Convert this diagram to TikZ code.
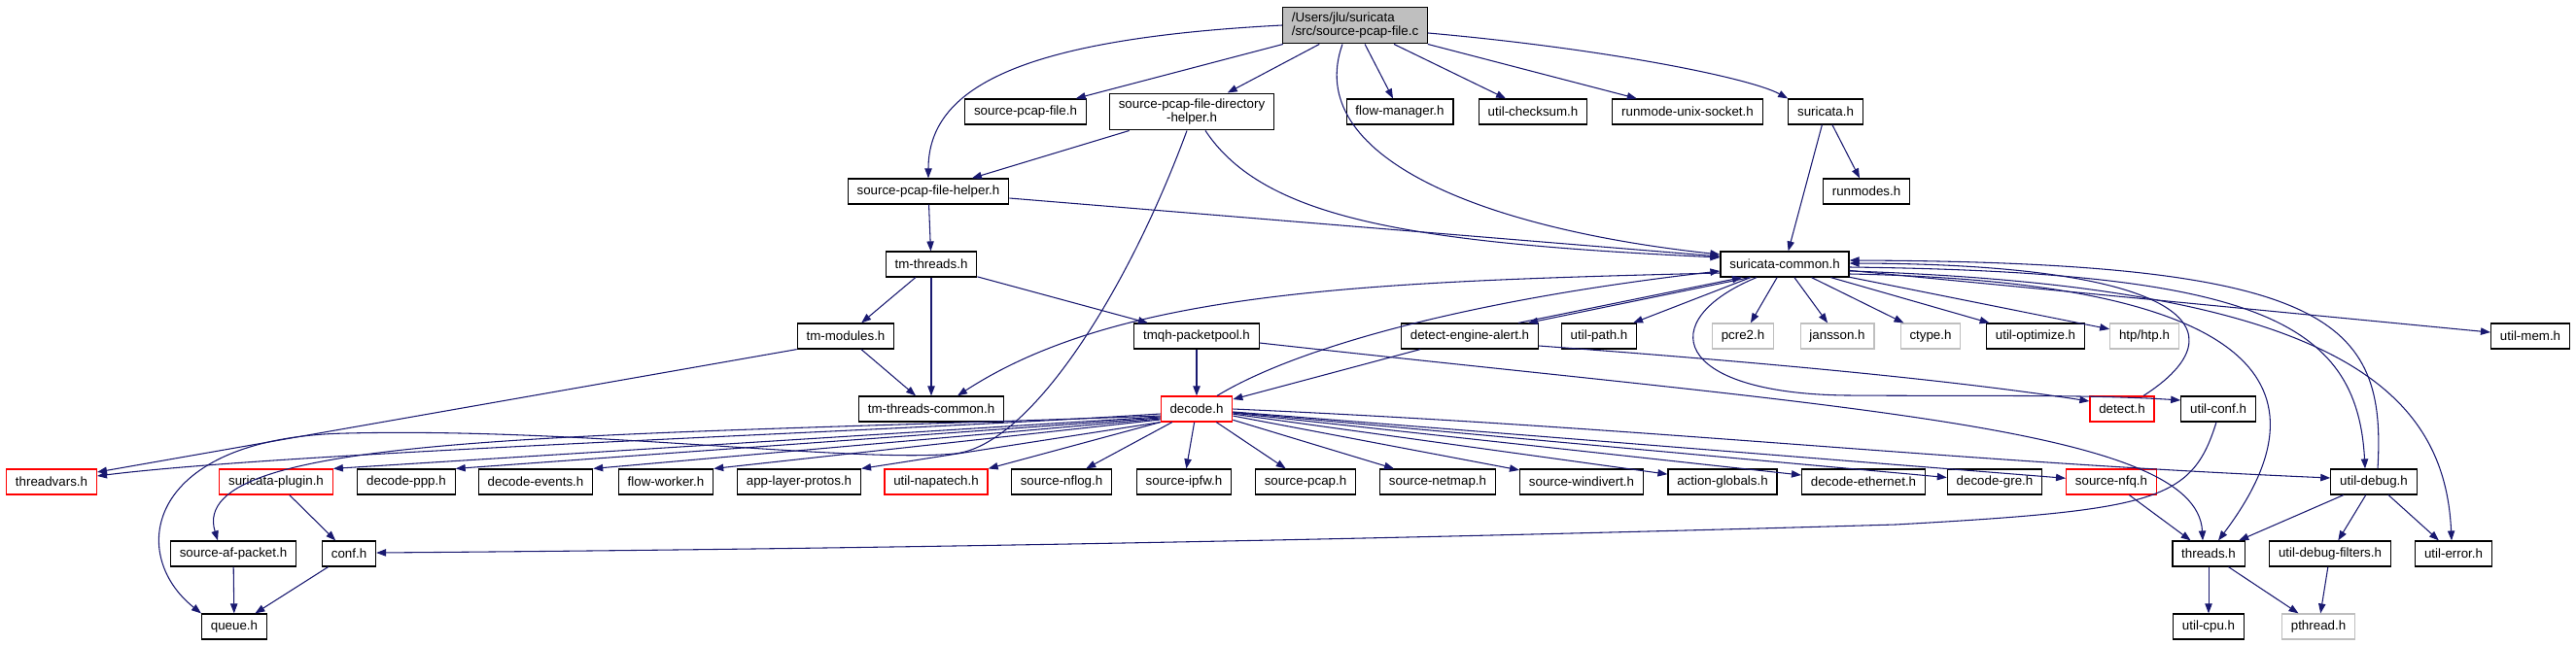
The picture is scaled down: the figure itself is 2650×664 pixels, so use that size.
\documentclass[tikz,border=0pt]{standalone}
\usepackage{fontspec}
\setmainfont{Liberation Sans}
\usetikzlibrary{arrows.meta}

\definecolor{depblue}{HTML}{191970}
\definecolor{sysgray}{HTML}{BFBFBF}

\begin{document}
\begin{tikzpicture}[x=0.75pt, y=-0.75pt,
    hdr/.style={draw=black, line width=0.9pt, minimum height=19.5pt, inner xsep=7pt, inner ysep=0pt, font=\fontsize{10}{11}\selectfont},
    hdrred/.style={hdr, draw=red},
    hdrsys/.style={hdr, draw=sysgray},
    dep/.style={draw=depblue, line width=0.8pt, -{Triangle[length=7.5pt, width=5.5pt]}}]
  \useasboundingbox (0,0) rectangle (2650,664);

  % the file itself
  \node[hdr, fill=sysgray, align=left, inner ysep=4pt] (r) at (1394,26) {/Users/jlu/suricata\\/src/source-pcap-file.c};

  % first row
  \node[hdr] (spf) at (1055,115) {source-pcap-file.h};
  \node[hdr, align=center, inner ysep=4pt] (dirh) at (1226,115) {source-pcap-file-directory\\-helper.h};
  \node[hdr] (fm) at (1440,115) {flow-manager.h};
  \node[hdr] (cks) at (1577,115) {util-checksum.h};
  \node[hdr] (rus) at (1736,115) {runmode-unix-socket.h};
  \node[hdr] (sur) at (1878,115) {suricata.h};

  % second row
  \node[hdr] (sfh) at (955,197) {source-pcap-file-helper.h};
  \node[hdr] (rmd) at (1920,197) {runmodes.h};

  % third row
  \node[hdr] (tmt) at (958,272) {tm-threads.h};
  \node[hdr] (sc) at (1836,272) {suricata-common.h};

  % fourth row
  \node[hdr] (tmm) at (870,346) {tm-modules.h};
  \node[hdr] (tmqh) at (1231,346) {tmqh-packetpool.h};
  \node[hdr] (dea) at (1512,346) {detect-engine-alert.h};
  \node[hdr] (upath) at (1645,346) {util-path.h};
  \node[hdrsys] (pcre) at (1793,346) {pcre2.h};
  \node[hdrsys] (jan) at (1890,346) {jansson.h};
  \node[hdrsys] (ctyp) at (1986,346) {ctype.h};
  \node[hdr] (uopt) at (2094,346) {util-optimize.h};
  \node[hdrsys] (htp) at (2206,346) {htp/htp.h};
  \node[hdr] (umem) at (2603,346) {util-mem.h};

  % fifth row
  \node[hdr] (ttc) at (958,421) {tm-threads-common.h};
  \node[hdrred] (dec) at (1231,421) {decode.h};
  \node[hdrred] (det) at (2183,421) {detect.h};
  \node[hdr] (uconf) at (2282,421) {util-conf.h};

  % sixth row
  \node[hdrred] (tv) at (53,496) {threadvars.h};
  \node[hdrred] (splug) at (284,496) {suricata-plugin.h};
  \node[hdr] (dppp) at (418,496) {decode-ppp.h};
  \node[hdr] (devt) at (551,496) {decode-events.h};
  \node[hdr] (fw) at (685,496) {flow-worker.h};
  \node[hdr] (alp) at (822,496) {app-layer-protos.h};
  \node[hdrred] (unap) at (963,496) {util-napatech.h};
  \node[hdr] (nflog) at (1092,496) {source-nflog.h};
  \node[hdr] (ipfw) at (1218,496) {source-ipfw.h};
  \node[hdr] (spcap) at (1343,496) {source-pcap.h};
  \node[hdr] (nmap) at (1479,496) {source-netmap.h};
  \node[hdr] (wdiv) at (1627,496) {source-windivert.h};
  \node[hdr] (actg) at (1772,496) {action-globals.h};
  \node[hdr] (deth) at (1917,496) {decode-ethernet.h};
  \node[hdr] (dgre) at (2052,496) {decode-gre.h};
  \node[hdrred] (nfq) at (2172,496) {source-nfq.h};
  \node[hdr] (udbg) at (2442,496) {util-debug.h};

  % seventh row
  \node[hdr] (afp) at (240,570) {source-af-packet.h};
  \node[hdr] (conf) at (359,570) {conf.h};
  \node[hdr] (thr) at (2272,570) {threads.h};
  \node[hdr] (udf) at (2397,570) {util-debug-filters.h};
  \node[hdr] (uerr) at (2524,570) {util-error.h};

  % last row
  \node[hdr] (q) at (241,645) {queue.h};
  \node[hdr] (ucpu) at (2272,645) {util-cpu.h};
  \node[hdrsys] (pth) at (2385,645) {pthread.h};

  % includes of the file itself
  \draw[dep] (r.west) .. controls (1050,40) and (955,90) .. (sfh.north);
  \draw[dep] (r) -- (spf);
  \draw[dep] (r) -- (dirh);
  \draw[dep] (r.south -| 1381,0) .. controls (1340,160) and (1520,235) .. (sc.west |- 0,262);
  \draw[dep] (r) -- (fm);
  \draw[dep] (r) -- (cks);
  \draw[dep] (r) -- (rus);
  \draw[dep] (r.east |- 0,34) .. controls (1650,50) and (1800,80) .. (sur.north west);

  % directory helper
  \draw[dep] (dirh) -- (sfh);
  \draw[dep] (dirh.south -| 1240,0) .. controls (1300,225) and (1450,250) .. (sc.west |- 0,265);
  \draw[dep] (dirh.south -| 1221,0) .. controls (1160,300) and (1060,459) .. (982,467)
    .. controls (880,477) and (600,440) .. (357,446) .. controls (150,450) and (130,570) .. (q.north west);

  % threads part
  \draw[dep] (sfh) -- (tmt);
  \draw[dep] (sfh.east |- 0,204) -- (sc.west |- 0,264);
  \draw[dep] (tmt) -- (tmm);
  \draw[dep] (tmt) -- (ttc);
  \draw[dep] (tmt) -- (tmqh);
  \draw[dep] (tmm) -- (ttc);
  \draw[dep] (tmm.south west) -- (tv.east |- 0,486);
  \draw[dep] (tmqh) -- (dec);
  \draw[dep] (tmqh.east |- 0,353) .. controls (1900,420) and (2260,440) .. (thr.north -| 2266,0);
  \draw[dep] (dea) -- (dec);
  \draw[dep] (dea.east |- 0,356) .. controls (1800,372) and (2000,390) .. (det.west |- 0,413);
  \draw[dep] (dea.north -| 1562,0) -- (sc.south -| 1792,0);
  \draw[dep] (sc.south -| 1800,0) -- (dea.north -| 1572,0);

  % decode.h
  \draw[dep] (dec.west |- 0,426) .. controls (900,445) and (300,465) .. (tv.east |- 0,490);
  \draw[dep] (dec.west |- 0,428) .. controls (600,450) and (190,445) .. (afp.north -| 224,0);
  \draw[dep] (dec.west |- 0,429) -- (splug.north east);
  \draw[dep] (dec.west |- 0,430) -- (dppp.north east);
  \draw[dep] (dec.west |- 0,431) -- (devt.north east);
  \draw[dep] (dec.west |- 0,432) -- (fw.north east);
  \draw[dep] (dec.south west) -- (alp.north east);
  \draw[dep] (dec.south west) -- (unap.north east);
  \draw[dep] (dec) -- (nflog);
  \draw[dep] (dec) -- (ipfw);
  \draw[dep] (dec) -- (spcap);
  \draw[dep] (dec) -- (nmap);
  \draw[dep] (dec) -- (wdiv);
  \draw[dep] (dec) -- (actg);
  \draw[dep] (dec) -- (deth);
  \draw[dep] (dec) -- (dgre);
  \draw[dep] (dec) -- (nfq);
  \draw[dep] (dec.east) .. controls (1700,440) and (2000,475) .. (udbg.west |- 0,492);
  \draw[dep] (dec.north -| 1252,0) .. controls (1330,360) and (1500,310) .. (sc.west |- 0,279);

  % suricata-common.h
  \draw[dep] (sc.west |- 0,281) .. controls (1400,290) and (1150,300) .. (ttc.north -| 985,0);
  \draw[dep] (sc) -- (upath);
  \draw[dep] (sc) -- (pcre);
  \draw[dep] (sc) -- (jan);
  \draw[dep] (sc) -- (ctyp);
  \draw[dep] (sc) -- (uopt);
  \draw[dep] (sc) -- (htp);
  \draw[dep] (sc) -- (umem);
  \draw[dep] (sc.south -| 1807,0) .. controls (1700,330) and (1720,405) .. (1900,407)
    .. controls (2050,408) and (2150,406) .. (uconf.west |- 0,412);
  \draw[dep] (sc.east |- 0,275) .. controls (2320,280) and (2425,330) .. (udbg.north -| 2433,0);
  \draw[dep] (sc.east |- 0,279) .. controls (2400,295) and (2515,400) .. (uerr.north -| 2522,0);
  \draw[dep] (sc.east |- 0,282) .. controls (2330,290) and (2400,400) .. (thr.north -| 2282,0);
  \draw[dep] (det.north -| 2205,0) .. controls (2310,340) and (2250,272) .. (sc.east |- 0,271);
  \draw[dep] (udbg.north -| 2446,0) .. controls (2455,330) and (2400,270) .. (sc.east |- 0,268);

  % lower part
  \draw[dep] (uconf.south -| 2280,0) .. controls (2255,515) and (2220,525) .. (1950,540)
    .. controls (1400,556) and (900,565) .. (conf.east |- 0,569);
  \draw[dep] (splug) -- (conf);
  \draw[dep] (afp) -- (q);
  \draw[dep] (conf) -- (q);
  \draw[dep] (nfq) -- (thr);
  \draw[dep] (udbg) -- (thr);
  \draw[dep] (udbg) -- (udf);
  \draw[dep] (udbg) -- (uerr);
  \draw[dep] (thr) -- (ucpu);
  \draw[dep] (thr) -- (pth);
  \draw[dep] (udf) -- (pth);
  \draw[dep] (sur) -- (rmd);
  \draw[dep] (sur) -- (sc);
\end{tikzpicture}
\end{document}
